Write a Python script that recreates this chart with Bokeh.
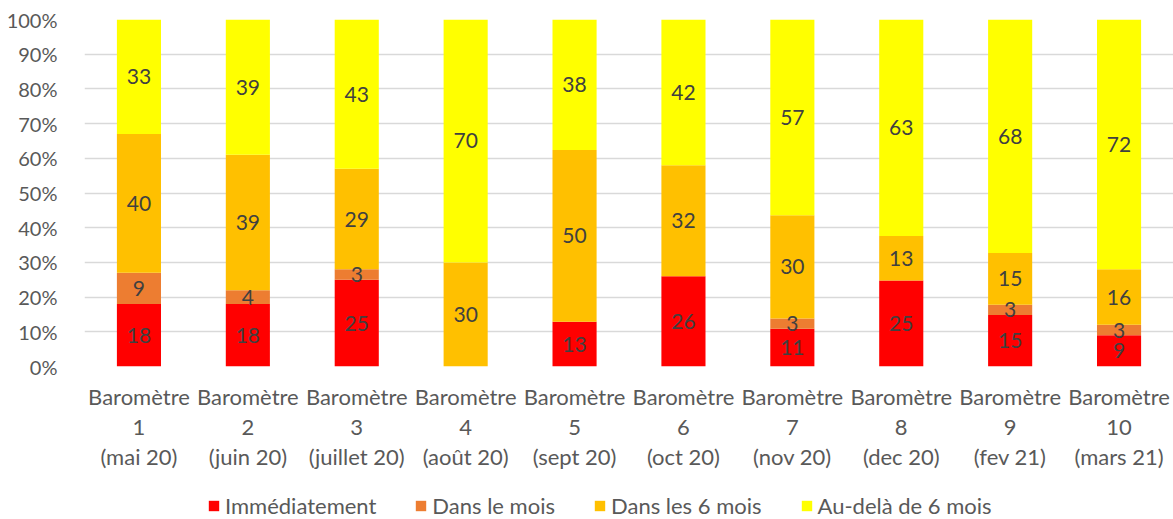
import numpy as np
from bokeh.plotting import figure
from bokeh.layouts import column
from bokeh.models import (ColumnDataSource, Range1d, FixedTicker,
                          NumeralTickFormatter, LinearAxis, Legend, LegendItem)
from bokeh.core.properties import value
from bokeh.embed import file_html
from bokeh.resources import INLINE

# ---------------- data ----------------
numbers = ["1", "2", "3", "4", "5", "6", "7", "8", "9", "10"]
label_top = "Baromètre"
periods = ["(mai 20)", "(juin 20)", "(juillet 20)", "(août 20)", "(sept 20)",
           "(oct 20)", "(nov 20)", "(dec 20)", "(fev 21)", "(mars 21)"]
series_names = ["Immédiatement", "Dans le mois", "Dans les 6 mois", "Au-delà de 6 mois"]
immediat = [18, 18, 25, 0, 13, 26, 11, 25, 15, 9]
dans_mois = [9, 4, 3, 0, 0, 0, 3, 0, 3, 3]
six_mois = [40, 39, 29, 30, 50, 32, 30, 13, 15, 16]
au_dela = [33, 39, 43, 70, 38, 42, 57, 63, 68, 72]
colors = ["#FF0000", "#ED7D31", "#FFC000", "#FFFF00"]

FONT = "Lato"
W = 1173
xs = list(range(1, len(numbers) + 1))
series = [immediat, dans_mois, six_mois, au_dela]
arr = np.array(series, dtype=float)
totals = arr.sum(axis=0)
fracs = arr / totals

keys = ["s0", "s1", "s2", "s3"]
data = {"x": xs}
for k, f in zip(keys, fracs):
    data[k] = list(f)
src = ColumnDataSource(data)

# label positions
lx, ly, lt = [], [], []
cum = np.zeros(len(xs))
for vals, f in zip(series, fracs):
    for i in range(len(xs)):
        if vals[i] > 0:
            lx.append(xs[i])
            ly.append(cum[i] + f[i] / 2)
            lt.append(str(vals[i]))
    cum = cum + f
lsrc = ColumnDataSource(dict(x=lx, y=ly, t=lt))

p = figure(width=W, height=489, x_range=Range1d(0.5, len(xs) + 0.5),
           y_range=Range1d(0, 1), output_backend="svg", toolbar_location=None,
           min_border_left=84, min_border_right=0, min_border_top=19,
           min_border_bottom=123, x_axis_type=None)
p.outline_line_color = None

renderers = p.vbar_stack(keys, x="x", width=0.405, color=colors, source=src,
                         line_color=None)

p.text(x="x", y="y", text="t", source=lsrc, text_align="center",
       text_baseline="middle", text_color="#404040", text_font=value(FONT),
       text_font_size="21px")

# y axis
p.yaxis.ticker = FixedTicker(ticks=[i / 10 for i in range(11)])
p.yaxis.formatter = NumeralTickFormatter(format="0%")
p.yaxis.axis_line_color = None
p.yaxis.major_tick_line_color = None
p.yaxis.minor_tick_line_color = None
p.yaxis.major_label_text_font = FONT
p.yaxis.major_label_text_font_size = "20px"
p.yaxis.major_label_text_color = "#595959"
p.yaxis.major_label_standoff = 21

p.ygrid.grid_line_color = "#D9D9D9"
p.ygrid.grid_line_width = 1.3
p.xgrid.grid_line_color = None

# x axes: three lines of category labels
line_labels = [[label_top] * len(xs), numbers, periods]
standoffs = [16, 7, 5]
for labels, so in zip(line_labels, standoffs):
    ax = LinearAxis(ticker=FixedTicker(ticks=xs),
                    major_label_overrides={x: l for x, l in zip(xs, labels)},
                    major_label_standoff=so)
    ax.axis_line_color = None
    ax.major_tick_line_color = None
    ax.minor_tick_line_color = None
    ax.major_tick_out = 0
    ax.major_tick_in = 0
    ax.major_label_text_font = FONT
    ax.major_label_text_font_size = "22px"
    ax.major_label_text_color = "#595959"
    p.add_layout(ax, "below")

# legend strip (same stacked series, drawn outside its visible y range)
p2 = figure(width=W, height=30, x_axis_type=None, y_axis_type=None,
            toolbar_location=None, output_backend="svg", min_border=0,
            x_range=Range1d(0.5, len(xs) + 0.5), y_range=Range1d(5, 6))
p2.outline_line_color = None
p2.grid.grid_line_color = None
hidden = p2.vbar_stack(keys, x="x", width=0.405, color=colors, source=src,
                       line_color=None)
legend = Legend(items=[LegendItem(label=n, renderers=[r]) for n, r in zip(series_names, hidden)],
                orientation="horizontal", location=(123, 0),
                label_text_font=FONT, label_text_font_size="22px",
                label_text_color="#595959", glyph_width=13, glyph_height=13,
                label_standoff=5, spacing=38, border_line_color=None,
                background_fill_alpha=0, margin=0, padding=0)
p2.add_layout(legend, "center")

layout = column(p, p2, spacing=0)
open("out.html", "w").write(file_html(layout, INLINE))
